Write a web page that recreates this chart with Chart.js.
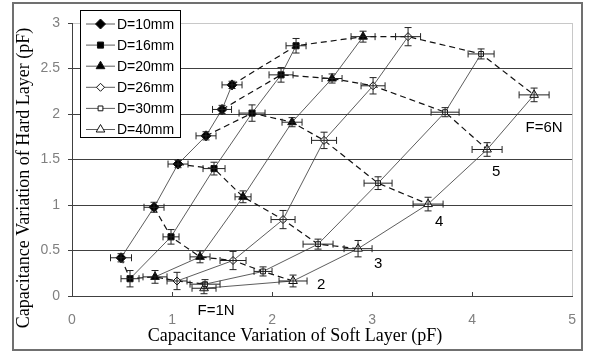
<!DOCTYPE html>
<html><head><meta charset="utf-8">
<script src="https://cdn.jsdelivr.net/npm/chart.js@4/dist/chart.umd.min.js"></script>
<style>html,body{margin:0;padding:0;background:#fff;}#wrap{width:592px;height:356px;}</style>
</head><body><div id="wrap"><canvas id="c" width="592" height="356"></canvas></div>
<script>
// ---- data (pF) ----
const seriesLabels = ['D=10mm', 'D=16mm', 'D=20mm', 'D=26mm', 'D=30mm', 'D=40mm'];
const forceLabels = ['F=1N', '2', '3', '4', '5', 'F=6N'];

const d10X = [0.49, 0.82, 1.06, 1.34, 1.50, 1.60];
const d10Y = [0.42, 0.975, 1.45, 1.76, 2.05, 2.32];
const d16X = [0.58, 0.99, 1.42, 1.80, 2.09, 2.24];
const d16Y = [0.19, 0.65, 1.40, 2.01, 2.43, 2.75];
const d20X = [0.83, 1.28, 1.71, 2.20, 2.60, 2.91];
const d20Y = [0.21, 0.43, 1.09, 1.91, 2.39, 2.85];
const d26X = [1.05, 1.61, 2.11, 2.52, 3.01, 3.36];
const d26Y = [0.165, 0.39, 0.84, 1.71, 2.31, 2.85];
const d30X = [1.33, 1.91, 2.46, 3.06, 3.73, 4.09];
const d30Y = [0.13, 0.27, 0.57, 1.24, 2.02, 2.66];
const d40X = [1.32, 2.21, 2.86, 3.56, 4.15, 4.62];
const d40Y = [0.085, 0.165, 0.52, 1.01, 1.61, 2.21];

const d10XErr = [0.105, 0.10, 0.10, 0.10, 0.095, 0.10];
const d10YErr = [0.045, 0.055, 0.04, 0.045, 0.045, 0.04];
const d16XErr = [0.09, 0.08, 0.11, 0.13, 0.12, 0.10];
const d16YErr = [0.09, 0.08, 0.07, 0.09, 0.08, 0.08];
const d20XErr = [0.12, 0.10, 0.08, 0.10, 0.10, 0.12];
const d20YErr = [0.07, 0.065, 0.065, 0.05, 0.05, 0.06];
const d26XErr = [0.10, 0.13, 0.12, 0.125, 0.12, 0.125];
const d26YErr = [0.095, 0.10, 0.10, 0.09, 0.09, 0.10];
const d30XErr = [0.15, 0.09, 0.15, 0.14, 0.14, 0.13];
const d30YErr = [0.05, 0.05, 0.055, 0.07, 0.05, 0.055];
const d40XErr = [0.12, 0.14, 0.14, 0.15, 0.15, 0.15];
const d40YErr = [0.06, 0.065, 0.09, 0.075, 0.075, 0.075];

const xTicks = [0, 1, 2, 3, 4, 5];
const yTicks = [0, 0.5, 1, 1.5, 2, 2.5, 3];

// ---- build ----
const allX = [d10X, d16X, d20X, d26X, d30X, d40X];
const allY = [d10Y, d16Y, d20Y, d26Y, d30Y, d40Y];
const allXErr = [d10XErr, d16XErr, d20XErr, d26XErr, d30XErr, d40XErr];
const allYErr = [d10YErr, d16YErr, d20YErr, d26YErr, d30YErr, d40YErr];

const styles = [
  {ps: 'rectRot', r: 5, bg: '#000'},
  {ps: 'rect', r: 4.3, bg: '#000'},
  {ps: 'triangle', r: 5, bg: '#000'},
  {ps: 'rectRot', r: 4, bg: '#fff'},
  {ps: 'rect', r: 3.4, bg: '#fff'},
  {ps: 'triangle', r: 5, bg: '#fff'}
];

const datasets = [];
seriesLabels.forEach((lab, i) => {
  datasets.push({
    label: lab,
    data: allX[i].map((x, k) => ({x, y: allY[i][k]})),
    showLine: true,
    borderColor: '#333',
    borderWidth: 0.8,
    pointStyle: styles[i].ps,
    pointRadius: styles[i].r,
    pointBackgroundColor: styles[i].bg,
    pointBorderColor: '#111',
    pointBorderWidth: 1,
    errX: allXErr[i], errY: allYErr[i],
    isSeries: true
  });
});
forceLabels.forEach((lab, k) => {
  datasets.push({
    label: lab,
    data: allX.map((xs, i) => ({x: xs[k], y: allY[i][k]})),
    showLine: true,
    borderColor: '#111',
    borderWidth: 1.2,
    borderDash: [6, 4],
    pointRadius: 0,
    isSeries: false
  });
});

// text annotations: [text, x, y] in data units
const noteText = [['F=1N', 1.44, -0.16], ['2', 2.49, 0.12], ['3', 3.06, 0.35], ['4', 3.67, 0.82], ['5', 4.24, 1.36], ['F=6N', 4.72, 1.85]];

const extras = {
  id: 'extras',
  beforeDraw(chart) {
    const ctx = chart.ctx;
    ctx.save();
    ctx.fillStyle = '#fff';
    ctx.fillRect(0, 0, chart.width, chart.height);
    ctx.strokeStyle = '#707070';
    ctx.lineWidth = 2;
    ctx.strokeRect(13, 3, 569, 347);
    ctx.restore();
  },
  afterDatasetsDraw(chart) {
    const ctx = chart.ctx, xs = chart.scales.x, ys = chart.scales.y;
    ctx.save();
    ctx.strokeStyle = '#222';
    ctx.lineWidth = 1;
    chart.data.datasets.forEach(ds => {
      if (!ds.isSeries) return;
      ds.data.forEach((p, k) => {
        const px = xs.getPixelForValue(p.x), py = ys.getPixelForValue(p.y);
        const x1 = xs.getPixelForValue(p.x - ds.errX[k]), x2 = xs.getPixelForValue(p.x + ds.errX[k]);
        const y1 = ys.getPixelForValue(p.y - ds.errY[k]), y2 = ys.getPixelForValue(p.y + ds.errY[k]);
        ctx.beginPath();
        ctx.moveTo(x1, py); ctx.lineTo(x2, py);
        ctx.moveTo(x1, py - 3.5); ctx.lineTo(x1, py + 3.5);
        ctx.moveTo(x2, py - 3.5); ctx.lineTo(x2, py + 3.5);
        ctx.moveTo(px, y1); ctx.lineTo(px, y2);
        ctx.moveTo(px - 3.5, y1); ctx.lineTo(px + 3.5, y1);
        ctx.moveTo(px - 3.5, y2); ctx.lineTo(px + 3.5, y2);
        ctx.stroke();
      });
    });
    ctx.restore();
  },
  afterDraw(chart) {
    const ctx = chart.ctx, xs = chart.scales.x, ys = chart.scales.y;
    ctx.save();
    // inward x ticks
    ctx.strokeStyle = '#404040'; ctx.lineWidth = 1;
    xTicks.forEach(v => {
      if (v === 0 || v === 5) return;
      const px = Math.round(xs.getPixelForValue(v)) + 0.5;
      ctx.beginPath(); ctx.moveTo(px, ys.bottom); ctx.lineTo(px, ys.bottom - 4); ctx.stroke();
    });
    // annotations
    ctx.fillStyle = '#000';
    ctx.font = '15px "Liberation Sans", Arial, sans-serif';
    ctx.textAlign = 'center'; ctx.textBaseline = 'middle';
    noteText.forEach(n => ctx.fillText(n[0], xs.getPixelForValue(n[1]), ys.getPixelForValue(n[2])));
    // axis titles
    ctx.font = '18px "Liberation Serif", "Times New Roman", serif';
    ctx.fillText('Capacitance Variation of Soft Layer (pF)', 295, 336);
    ctx.save();
    ctx.translate(24, 178); ctx.rotate(-Math.PI / 2);
    ctx.fillText('Capacitance Variation of Hard Layer (pF)', 0, 0);
    ctx.restore();
    // legend
    ctx.fillStyle = '#fff';
    ctx.fillRect(80.5, 10.5, 100, 127);
    ctx.strokeStyle = '#000'; ctx.lineWidth = 1;
    ctx.strokeRect(80.5, 10.5, 100, 127);
    const series = chart.data.datasets.filter(d => d.isSeries);
    ctx.font = '14px "Liberation Sans", Arial, sans-serif';
    ctx.textAlign = 'left';
    series.forEach((ds, i) => {
      const y = 24 + i * 21.1;
      ctx.strokeStyle = '#333'; ctx.lineWidth = 0.8;
      ctx.beginPath(); ctx.moveTo(86, y); ctx.lineTo(115, y); ctx.stroke();
      ctx.fillStyle = ds.pointBackgroundColor; ctx.strokeStyle = '#111'; ctx.lineWidth = 1;
      Chart.helpers.drawPoint(ctx, {pointStyle: ds.pointStyle, radius: ds.pointRadius, rotation: 0, borderWidth: 1}, 100.5, y);
      ctx.fillStyle = '#000';
      ctx.fillText(ds.label, 117, y + 1);
    });
    ctx.restore();
  }
};

new Chart(document.getElementById('c'), {
  type: 'scatter',
  data: {datasets},
  options: {
    responsive: false,
    animation: false,
    devicePixelRatio: 1,
    layout: {padding: {left: 0, right: 18, top: 23, bottom: 0}},
    plugins: {legend: {display: false}, tooltip: {enabled: false}},
    scales: {
      x: {
        type: 'linear', min: 0, max: 5,
        afterBuildTicks: s => { s.ticks = xTicks.map(v => ({value: v})); },
        afterFit: s => { s.height = 60; },
        grid: {drawTicks: false, lineWidth: 1, color: c => (c.tick && c.tick.value === 5) ? '#c8c8c8' : 'rgba(0,0,0,0)'},
        border: {display: true, color: '#404040', width: 1},
        ticks: {padding: 16, color: '#808080', callback: v => String(+v), font: {size: 14, family: '"Liberation Sans", Arial, sans-serif'}}
      },
      y: {
        type: 'linear', min: 0, max: 3,
        afterBuildTicks: s => { s.ticks = yTicks.map(v => ({value: v})); },
        afterFit: s => { s.width = 72; },
        grid: {drawTicks: true, tickLength: 4, tickColor: '#404040', lineWidth: 1, color: c => (c.tick && c.tick.value === 3) ? '#c8c8c8' : '#404040'},
        border: {display: true, color: '#404040', width: 1},
        ticks: {padding: 8, color: '#808080', callback: v => String(+v), font: {size: 14, family: '"Liberation Sans", Arial, sans-serif'}}
      }
    }
  },
  plugins: [extras]
});
</script>
</body></html>
